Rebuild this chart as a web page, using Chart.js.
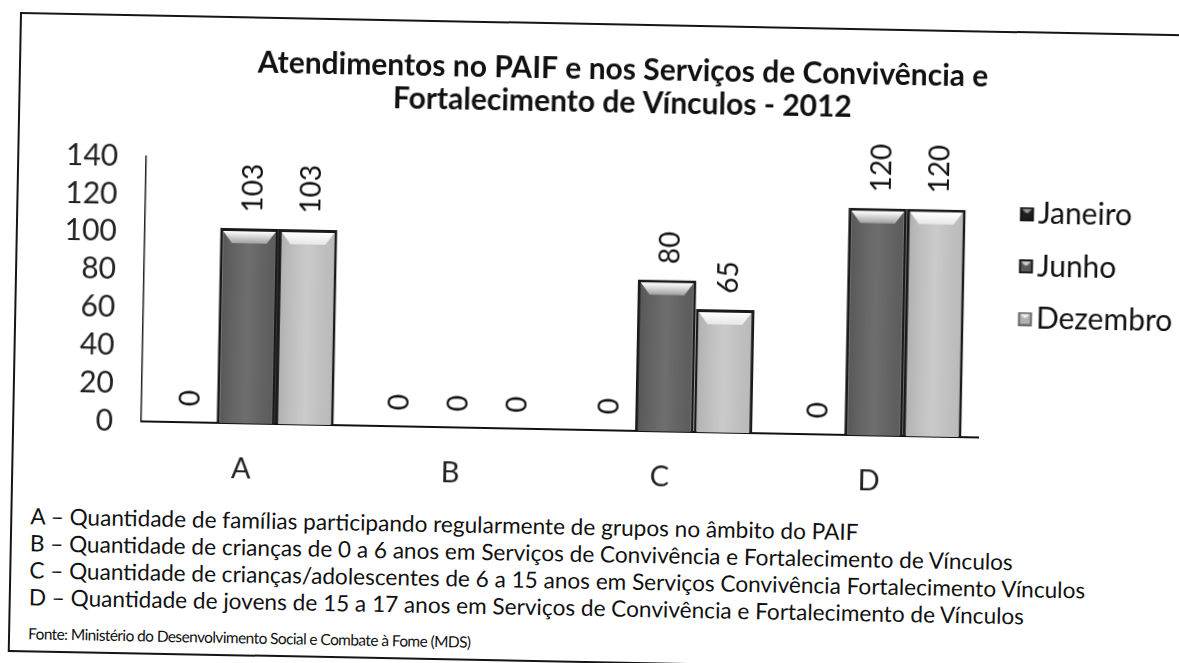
<!DOCTYPE html>
<html>
<head>
<meta charset="utf-8">
<script src="https://cdn.jsdelivr.net/npm/chart.js@4.4.1/dist/chart.umd.min.js"></script>
<style>
  html, body { margin: 0; padding: 0; background: #fff; overflow: hidden; }
  #folha {
    position: absolute; left: 0; top: 0; width: 1179px; height: 663px;
    transform: rotate(1.1deg); transform-origin: 590px 331px;
  }
  #moldura {
    position: absolute; left: 14px; top: 23px; width: 1200px; height: 636px;
    border: 2.5px solid #151515;
  }
  #grafico { position: absolute; left: 0; top: 0; }
  .nota {
    position: absolute; left: 34px; font-family: Lato, sans-serif;
    font-size: 22.6px; color: #111; white-space: nowrap; line-height: 1;
  }
  .fonte { font-size: 15.5px; letter-spacing: -0.6px; }
</style>
</head>
<body>
<div id="folha">
  <div id="moldura"></div>
  <canvas id="grafico" width="1200" height="500"></canvas>
  <div class="nota" style="top:516px">A – Quantidade de famílias participando regularmente de grupos no âmbito do PAIF</div>
  <div class="nota" style="top:543px">B – Quantidade de crianças de 0 a 6 anos em Serviços de Convivência e Fortalecimento de Vínculos</div>
  <div class="nota" style="top:570px">C – Quantidade de crianças/adolescentes de 6 a 15 anos em Serviços Convivência Fortalecimento Vínculos</div>
  <div class="nota" style="top:597px">D – Quantidade de jovens de 15 a 17 anos em Serviços de Convivência e Fortalecimento de Vínculos</div>
  <div class="nota fonte" style="top:637px">Fonte: Ministério do Desenvolvimento Social e Combate à Fome (MDS)</div>
</div>
<script>
// dados
const categorias = ['A', 'B', 'C', 'D'];
const janeiro = [0, 0, 0, 0];
const junho = [103, 0, 80, 120];
const dezembro = [103, 0, 65, 120];
const ticksY = [0, 20, 40, 60, 80, 100, 120, 140];

const fonte = 'Lato';

// marcadores da legenda (quadradinho com topo chanfrado)
function marcador(borda, miolo, topo) {
  const c = document.createElement('canvas');
  c.width = 30; c.height = 14;
  const g = c.getContext('2d');
  g.fillStyle = borda;
  g.fillRect(13, 0, 14, 14);
  g.fillStyle = miolo;
  g.fillRect(15, 2, 10, 10);
  g.fillStyle = topo;
  g.beginPath();
  g.moveTo(15, 2); g.lineTo(25, 2); g.lineTo(21, 6); g.lineTo(19, 6);
  g.closePath();
  g.fill();
  return c;
}

// rótulos girados e o brilho no topo das barras
const rotulos = {
  id: 'rotulos',
  afterDatasetsDraw(chart) {
    const ctx = chart.ctx;
    chart.data.datasets.forEach((ds, i) => {
      const meta = chart.getDatasetMeta(i);
      meta.data.forEach((bar, j) => {
        const altura = bar.base - bar.y;
        if (altura > 20) {
          const l = bar.x - bar.width / 2 + 3, r = bar.x + bar.width / 2 - 3;
          ctx.save();
          const lado = ctx.createLinearGradient(l, 0, r, 0);
          lado.addColorStop(0, 'rgba(0,0,0,0.10)');
          lado.addColorStop(0.5, 'rgba(255,255,255,0.08)');
          lado.addColorStop(1, 'rgba(0,0,0,0.06)');
          ctx.fillStyle = lado;
          ctx.fillRect(l, bar.y + 3, r - l, altura - 3);
          ctx.beginPath();
          ctx.moveTo(l, bar.y + 3);
          ctx.lineTo(r, bar.y + 3);
          ctx.lineTo(r - 9, bar.y + 15);
          ctx.lineTo(l + 9, bar.y + 15);
          ctx.closePath();
          const g = ctx.createLinearGradient(0, bar.y + 3, 0, bar.y + 15);
          g.addColorStop(0, '#ffffff');
          g.addColorStop(1, i === 1 ? '#a0a0a0' : '#e6e6e6');
          ctx.fillStyle = g;
          ctx.fill();
          ctx.restore();
        }
        ctx.save();
        ctx.translate(bar.x + 3, bar.y - 16);
        ctx.rotate(-Math.PI / 2);
        ctx.font = '28px ' + fonte;
        ctx.fillStyle = '#111';
        ctx.textAlign = 'left';
        ctx.textBaseline = 'middle';
        ctx.fillText(String(ds.data[j]), 0, 0);
        ctx.restore();
      });
    });
  }
};

new Chart(document.getElementById('grafico'), {
  type: 'bar',
  data: {
    labels: categorias,
    datasets: [
      { label: 'Janeiro', data: janeiro, backgroundColor: '#232323', borderColor: '#111', borderWidth: 2,
        pointStyle: marcador('#151515', '#1e1e1e', '#9a9a9a') },
      { label: 'Junho', data: junho, backgroundColor: '#626262', borderColor: '#1a1a1a', borderWidth: 3,
        pointStyle: marcador('#1a1a1a', '#5a5a5a', '#d0d0d0') },
      { label: 'Dezembro', data: dezembro, backgroundColor: '#c6c6c6', borderColor: '#1a1a1a', borderWidth: 3,
        pointStyle: marcador('#6a6a6a', '#b0b0b0', '#f0f0f0') }
    ]
  },
  options: {
    responsive: false,
    animation: false,
    layout: { padding: { left: 54, right: 18, top: 0, bottom: 0 } },
    categoryPercentage: 0.84,
    barPercentage: 1,
    plugins: {
      title: {
        display: true,
        text: ['Atendimentos no PAIF e nos Serviços de Convivência e', 'Fortalecimento de Vínculos - 2012'],
        color: '#111',
        font: { family: fonte, size: 30, weight: 'bold', lineHeight: 1.1 },
        padding: { top: 53, bottom: 46 }
      },
      legend: {
        position: 'right',
        title: { display: true, text: ' ', font: { size: 1 }, padding: { top: 8, bottom: 7 } },
        labels: {
          color: '#111',
          font: { family: fonte, size: 30 },
          usePointStyle: true,
          pointStyleWidth: 2,
          padding: 22.5
        }
      },
      tooltip: { enabled: false }
    },
    scales: {
      x: {
        grid: { display: false, drawTicks: false },
        border: { color: '#111', width: 2 },
        ticks: { color: '#222', font: { family: fonte, size: 29 }, padding: 28, labelOffset: -4 },
        afterFit: (s) => { s.height = 70; }
      },
      y: {
        min: 0,
        max: 140,
        grid: { display: false, drawTicks: false },
        border: { color: '#222', width: 1.5 },
        ticks: {
          color: '#222', font: { family: fonte, size: 30 }, padding: 28, autoSkip: false,
          stepSize: 20,
          callback: (v) => ticksY.includes(v) ? v : ''
        },
        afterFit: (s) => { s.width = 89; }
      },
      folga: {
        position: 'right',
        display: true,
        grid: { display: false, drawTicks: false },
        border: { display: false },
        ticks: { display: false },
        afterFit: (s) => { s.width = 16; }
      }
    }
  },
  plugins: [rotulos]
});
</script>
</body>
</html>
